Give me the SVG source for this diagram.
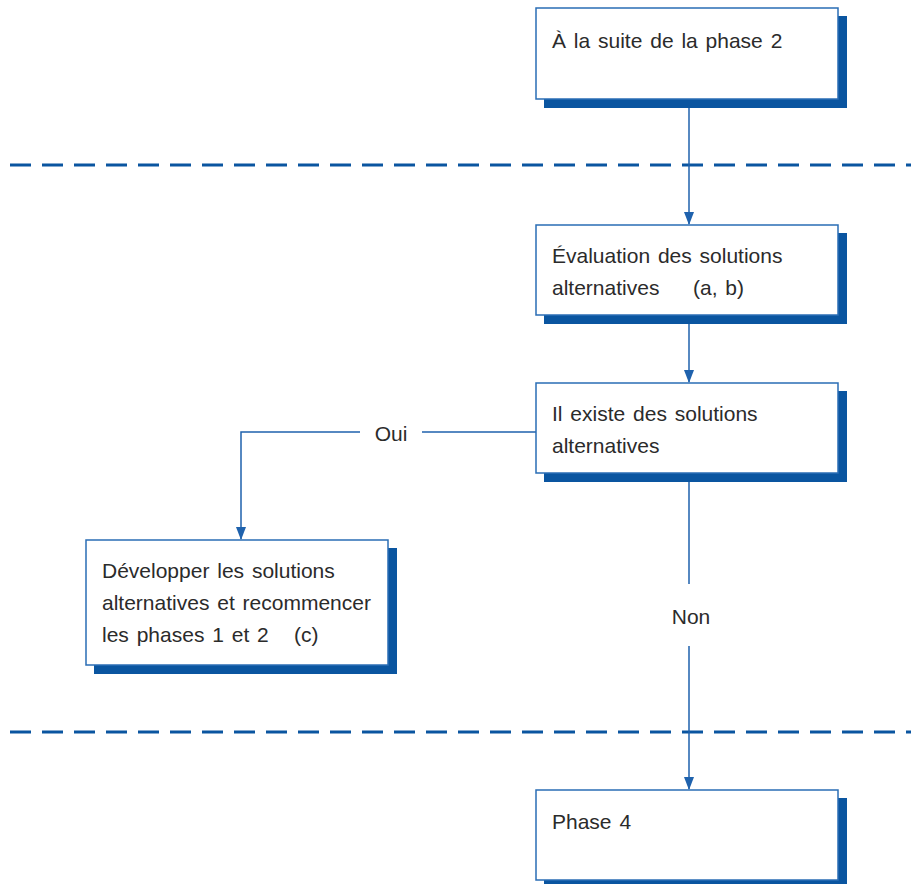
<svg xmlns="http://www.w3.org/2000/svg" width="911" height="884" viewBox="0 0 911 884">
<style>
.box{fill:#fff;stroke:#2a6db5;stroke-width:1.5}
.sh{fill:#0a55a0}
.t{font-family:"Liberation Sans",Arial,sans-serif;font-size:21px;word-spacing:2px;fill:#2b2b2b}
.c{fill:none;stroke:#1f62ad;stroke-width:1.5}
.d{fill:none;stroke:#0a55a0;stroke-width:3;stroke-dasharray:21 11}
.a{fill:#1f62ad}
</style>
<line class="d" x1="10" y1="165" x2="911" y2="165"/>
<line class="d" x1="10" y1="732" x2="911" y2="732"/>
<g id="connectors">
<path class="c" d="M689,99 V224"/>
<path class="a" d="M684,212 L694,212 L689,225 Z"/>
<path class="c" d="M689,315 V382"/>
<path class="a" d="M684,370 L694,370 L689,383 Z"/>
<path class="c" d="M536,432 H422 M360,432 H241 V539"/>
<path class="a" d="M236,527 L246,527 L241,540 Z"/>
<path class="c" d="M689,473 V584 M689,646 V789"/>
<path class="a" d="M684,777 L694,777 L689,790 Z"/>
<text class="t" x="391" y="441" text-anchor="middle">Oui</text>
<text class="t" x="691" y="624" text-anchor="middle">Non</text>
</g>
<g id="n1">
<rect class="sh" x="544" y="16" width="303" height="92"/>
<rect class="box" x="536" y="8" width="302" height="91"/>
<text class="t" x="552" y="48">À la suite de la phase 2</text>
</g>
<g id="n2">
<rect class="sh" x="544" y="233" width="303" height="91"/>
<rect class="box" x="536" y="225" width="302" height="90"/>
<text class="t" x="552" y="263">Évaluation des solutions</text>
<text class="t" x="552" y="295">alternatives</text>
<text class="t" x="693" y="295">(a, b)</text>
</g>
<g id="n3">
<rect class="sh" x="544" y="391" width="303" height="91"/>
<rect class="box" x="536" y="383" width="302" height="90"/>
<text class="t" x="552" y="421">Il existe des solutions</text>
<text class="t" x="552" y="453">alternatives</text>
</g>
<g id="n4">
<rect class="sh" x="94" y="548" width="303" height="126"/>
<rect class="box" x="86" y="540" width="302" height="125"/>
<text class="t" x="102" y="578">Développer les solutions</text>
<text class="t" x="102" y="610">alternatives et recommencer</text>
<text class="t" x="102" y="642">les phases 1 et 2</text>
<text class="t" x="294" y="642">(c)</text>
</g>
<g id="n5">
<rect class="sh" x="544" y="798" width="303" height="91"/>
<rect class="box" x="536" y="790" width="302" height="90"/>
<text class="t" x="552" y="829">Phase 4</text>
</g>
</svg>
